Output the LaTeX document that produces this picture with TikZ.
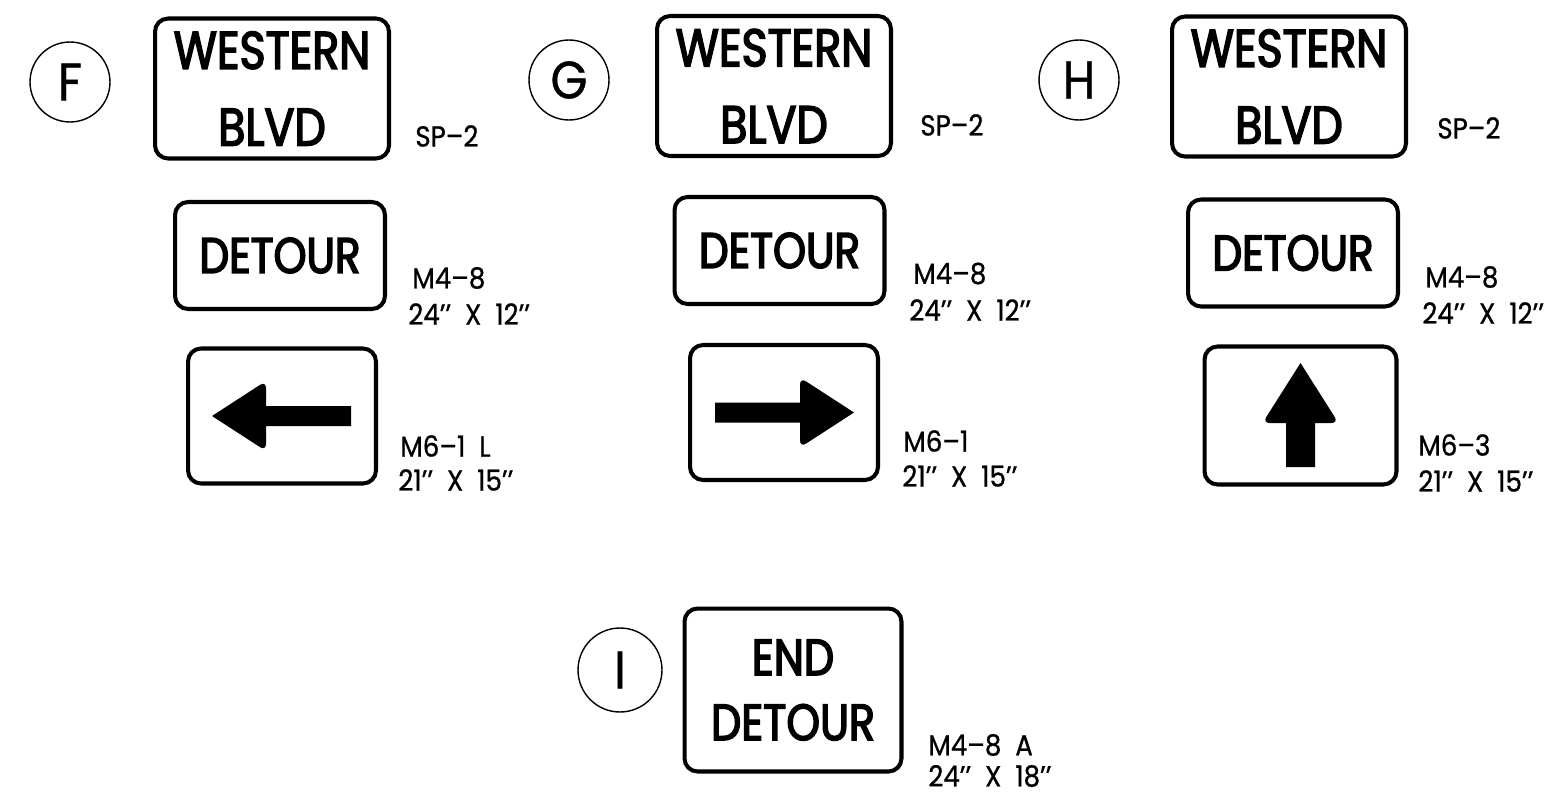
\documentclass[tikz,border=0pt]{standalone}
\usepackage{fontspec}
\newfontfamily\signfont[Ligatures=TeX, FakeStretch=0.84, FakeBold=3]{Poppins}
\newfontfamily\labelfont[Ligatures=TeX, FakeStretch=0.9, FakeBold=0.8]{Poppins}
\usetikzlibrary{positioning}
\tikzset
{
    signbox/.style = {draw=black, line width=2.3pt, rounded corners=0.26cm, align=center, inner sep=0pt, font=\signfont\fontsize{30}{43.7}\selectfont},
    namebox/.style = {signbox, minimum width=4.68cm, minimum height=2.8cm},
    detourbox/.style = {signbox, minimum width=4.2cm, minimum height=2.14cm, font=\signfont\fontsize{28.5}{37}\selectfont},
    arrowbox/.style = {signbox, minimum width=3.76cm, minimum height=2.7cm},
    endbox/.style = {signbox, minimum width=4.34cm, minimum height=3.26cm, font=\signfont\fontsize{29}{37}\selectfont},
    tagcircle/.style = {circle, draw=black, line width=0.8pt, minimum size=1.6cm, inner sep=0pt, font=\labelfont\fontsize{30}{30}\selectfont},
    codelabel/.style = {anchor=west, inner sep=0pt, font=\labelfont\fontsize{16.5}{18}\selectfont}
}
% arrow pointing right, px units round the box centre
\newcommand{\sidearrow}{(-69,-10) -- (16,-10) [rounded corners=4pt] -- (16,-35) [sharp corners] -- (70,0) [rounded corners=4pt] -- (16,35) [sharp corners] -- (16,10) -- (-69,10) -- cycle}

\begin{document}
\begin{tikzpicture}[x=0.02cm, y=-0.02cm]
\useasboundingbox (0,0) rectangle (1568,794);

% F
\node[tagcircle] (tagF) at (70,82) {F};
\node[namebox] (nameF) at (272,88.5) {WESTERN\\BLVD};
\node[codelabel] (codeF1) at (415,136) {SP–2};
\node[detourbox] (detF) at (280,255.5) {DETOUR};
\node[codelabel] (codeF2) at (412,278) {M4–8};
\node[codelabel] (sizeF2) at (408,314) {24’’ \ X \ 12’’};
\node[arrowbox] (arrF) at (282,416) {};
\node[codelabel] (codeF3) at (400,446) {M6–1 \ L};
\node[codelabel] (sizeF3) at (398,480) {21’’ \ X \ 15’’};
\begin{scope}[shift={(arrF.center)}, rotate=180]
\fill \sidearrow;
\end{scope}

% G
\node[tagcircle] (tagG) at (569,80) {G};
\node[namebox] (nameG) at (774,86) {WESTERN\\BLVD};
\node[codelabel] (codeG1) at (920,125) {SP–2};
\node[detourbox] (detG) at (779.5,250.5) {DETOUR};
\node[codelabel] (codeG2) at (913,273.5) {M4–8};
\node[codelabel] (sizeG2) at (909,310) {24’’ \ X \ 12’’};
\node[arrowbox] (arrG) at (784,412.5) {};
\node[codelabel] (codeG3) at (903,441) {M6–1};
\node[codelabel] (sizeG3) at (902,476) {21’’ \ X \ 15’’};
\begin{scope}[shift={(arrG.center)}]
\fill \sidearrow;
\end{scope}

% H
\node[tagcircle] (tagH) at (1079,80) {H};
\node[namebox] (nameH) at (1289,86.5) {WESTERN\\BLVD};
\node[codelabel] (codeH1) at (1437,128) {SP–2};
\node[detourbox] (detH) at (1293,253) {DETOUR};
\node[codelabel] (codeH2) at (1425,277) {M4–8};
\node[codelabel] (sizeH2) at (1422,313) {24’’ \ X \ 12’’};
\node[arrowbox, minimum width=3.84cm, minimum height=2.76cm] (arrH) at (1300.5,415.5) {};
\node[codelabel] (codeH3) at (1418,445) {M6–3};
\node[codelabel] (sizeH3) at (1418,481) {21’’ \ X \ 15’’};
\begin{scope}[shift={(arrH.center)}]
\fill (-14.5,51.5) -- (-14.5,7.5) [rounded corners=4pt] -- (-38,7.5) [sharp corners] -- (0,-52.5) [rounded corners=4pt] -- (38,7.5) [sharp corners] -- (14.5,7.5) -- (14.5,51.5) -- cycle;
\end{scope}

% I
\node[tagcircle, minimum size=1.68cm] (tagI) at (620,670) {I};
\node[endbox] (endI) at (793,690) {END\\DETOUR};
\node[codelabel] (codeI) at (928,745) {M4–8 \ A};
\node[codelabel] (sizeI) at (928,776) {24’’ \ X \ 18’’};
\end{tikzpicture}
\end{document}
